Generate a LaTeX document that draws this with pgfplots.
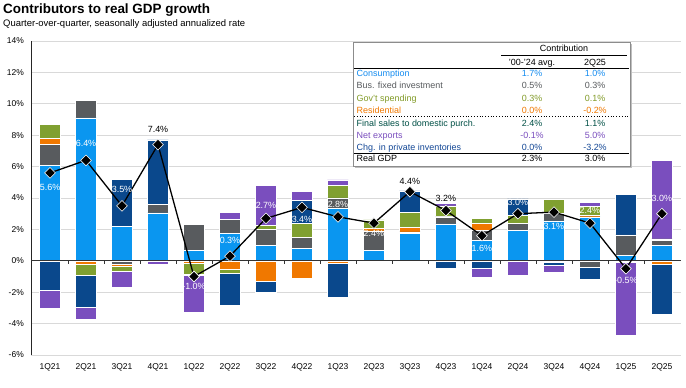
\documentclass[border=0pt]{standalone}
\usepackage{fontspec}
\setmainfont{Liberation Sans}
\usepackage{pgfplots}
\usepackage{pgfplotstable}
\pgfplotsset{compat=1.18}
\definecolor{cCons}{RGB}{10,150,240}
\definecolor{cBfi}{RGB}{88,91,94}
\definecolor{cRes}{RGB}{240,120,0}
\definecolor{cGov}{RGB}{128,160,48}
\definecolor{cInv}{RGB}{10,72,140}
\definecolor{cNx}{RGB}{122,78,190}
\definecolor{tCons}{RGB}{20,140,240}
\definecolor{tGov}{RGB}{130,155,40}
\definecolor{tFinal}{RGB}{0,80,70}
\definecolor{tInv}{RGB}{20,72,150}
\definecolor{gridc}{RGB}{217,217,217}

\pgfplotstableread{
x cons bfi res gov inv nx gdp
0 6.10 1.30 0.40 0.90 -1.90 -1.10 5.6
1 9.10 1.10 -0.20 -0.75 -2.00 -0.80 6.4
2 2.20 -0.20 -0.15 -0.30 3.00 -1.05 3.5
3 3.05 0.55 0.00 0.00 4.10 -0.20 7.4
4 0.65 1.65 -0.15 -0.70 -0.10 -2.35 -1.0
5 1.75 0.90 -0.55 -0.25 -2.00 0.45 0.3
6 1.00 1.00 -1.30 0.25 -0.70 2.55 2.7
7 0.80 0.70 -1.10 0.90 1.45 0.55 3.4
8 3.35 0.65 -0.15 0.80 -2.15 0.35 2.8
9 0.65 1.25 0.15 0.55 0.00 -0.10 2.4
10 1.75 0.10 0.30 0.95 1.35 -0.05 4.4
11 2.35 0.45 0.05 0.65 -0.45 0.15 3.2
12 1.30 0.65 0.45 0.30 -0.45 -0.60 1.6
13 1.95 0.45 -0.05 0.50 1.05 -0.90 3.0
14 2.55 0.45 -0.10 0.90 -0.17 -0.49 3.1
15 2.80 -0.40 0.10 0.55 -0.80 0.25 2.4
16 0.35 1.30 0.00 -0.07 2.60 -4.65 -0.5
17 1.00 0.30 -0.20 0.10 -3.20 5.00 3.0
}\data

\pgfplotsset{
  base/.style={
    at={(31bp,33bp)}, anchor=south west, scale only axis,
    width=650bp, height=314bp,
    xmin=-0.528, xmax=17.53, ymin=-6, ymax=14,
  },
  seg/.style={fill=#1, draw=white, line width=0.5pt},
}

\begin{document}
\begin{tikzpicture}
\path[use as bounding box] (0,0) rectangle (686bp,388bp);
\node[anchor=base west, inner sep=0pt, font=\fontsize{13.5}{15}\selectfont\bfseries] at (3bp,374bp) {Contributors to real GDP growth};
\node[anchor=base west, inner sep=0pt, font=\fontsize{9.5}{11}\selectfont] at (3bp,361.3bp) {Quarter-over-quarter, seasonally adjusted annualized rate};

% negative parts + grid + ticks
\begin{axis}[base,
  ybar stacked, bar width=21bp,
  ytick={-6,-4,...,14},
  yticklabels={-6\%,-4\%,-2\%,0\%,2\%,4\%,6\%,8\%,10\%,12\%,14\%},
  xtick={0,...,17},
  xticklabels={1Q21,2Q21,3Q21,4Q21,1Q22,2Q22,3Q22,4Q22,1Q23,2Q23,3Q23,4Q23,1Q24,2Q24,3Q24,4Q24,1Q25,2Q25},
  ymajorgrids, grid style={gridc, line width=0.8pt},
  axis lines*=left,
  x axis line style={draw=none},
  y axis line style={black!85, line width=0.8pt, -},
  major tick length=0pt,
  yticklabel style={font=\fontsize{8.5}{10}\selectfont, anchor=east, inner sep=0pt, xshift=-7bp},
  xticklabel style={font=\fontsize{8.5}{10}\selectfont, anchor=north, inner sep=0pt, yshift=-8bp},
]
\addplot[seg=cCons] table[x=x, y expr={min(\thisrow{cons},0)}] {\data};
\addplot[seg=cBfi]  table[x=x, y expr={min(\thisrow{bfi},0)}] {\data};
\addplot[seg=cRes]  table[x=x, y expr={min(\thisrow{res},0)}] {\data};
\addplot[seg=cGov]  table[x=x, y expr={min(\thisrow{gov},0)}] {\data};
\addplot[seg=cInv]  table[x=x, y expr={min(\thisrow{inv},0)}] {\data};
\addplot[seg=cNx]   table[x=x, y expr={min(\thisrow{nx},0)}] {\data};
\end{axis}

% positive parts
\begin{axis}[base, hide axis, ybar stacked, bar width=21bp]
\addplot[seg=cCons] table[x=x, y expr={max(\thisrow{cons},0)}] {\data};
\addplot[seg=cBfi]  table[x=x, y expr={max(\thisrow{bfi},0)}] {\data};
\addplot[seg=cRes]  table[x=x, y expr={max(\thisrow{res},0)}] {\data};
\addplot[seg=cGov]  table[x=x, y expr={max(\thisrow{gov},0)}] {\data};
\addplot[seg=cInv]  table[x=x, y expr={max(\thisrow{inv},0)}] {\data};
\addplot[seg=cNx]   table[x=x, y expr={max(\thisrow{nx},0)}] {\data};
\end{axis}

% zero line, GDP line and labels
\begin{axis}[base, hide axis, clip=false]
\draw[black!80, line width=0.8pt] (axis cs:-0.528,0) -- (axis cs:17.53,0);
\pgfplotsinvokeforeach{0.5,1.5,2.5,3.5,4.5,5.5,6.5,7.5,8.5,9.5,10.5,11.5,12.5,13.5,14.5,15.5,16.5}{
  \draw[black!80, line width=0.6pt] (axis cs:#1,0) -- (axis cs:#1,-0.22);
}
\addplot[black, line width=1.3pt, mark=square*, mark size=3.8bp,
  mark options={rotate=45, fill=black, draw=white, line width=0.6pt, solid}]
  table[x=x, y=gdp] {\data};
\begin{scope}[every node/.style={font=\fontsize{9}{10}\selectfont, inner sep=0pt}]
\node[text=white] at (axis cs:0,4.7) {5.6\%};
\node[text=white] at (axis cs:1,7.5) {6.4\%};
\node[text=white] at (axis cs:2,4.55) {3.5\%};
\node[text=black] at (axis cs:3,8.4) {7.4\%};
\node[text=white] at (axis cs:4,-1.65) {-1.0\%};
\node[text=white] at (axis cs:5,1.3) {0.3\%};
\node[text=white] at (axis cs:6,3.55) {2.7\%};
\node[text=white] at (axis cs:7,2.65) {3.4\%};
\node[text=white] at (axis cs:8,3.6) {2.8\%};
\node[text=white] at (axis cs:9,1.75) {2.4\%};
\node[text=black] at (axis cs:10,5.05) {4.4\%};
\node[text=black] at (axis cs:11,4.0) {3.2\%};
\node[text=white] at (axis cs:12,0.8) {1.6\%};
\node[text=white] at (axis cs:13,3.7) {3.0\%};
\node[text=white] at (axis cs:14,2.2) {3.1\%};
\node[text=white] at (axis cs:15,3.2) {2.4\%};
\node[text=white] at (axis cs:16,-1.25) {-0.5\%};
\node[text=white] at (axis cs:17,4.0) {3.0\%};
\end{scope}
\end{axis}

% table box
\fill[black!25] (355bp,219.5bp) rectangle (632bp,343.5bp);
\draw[black!45, line width=0.8pt, fill=white] (353bp,221.3bp) rectangle (630bp,345.3bp);
\begin{scope}[every node/.style={font=\fontsize{9}{11}\selectfont, inner sep=0pt}]
\node[anchor=base] at (564bp,336bp) {Contribution};
\draw[black, line width=0.6pt] (501bp,333bp) -- (627bp,333bp);
\node[anchor=base] at (532bp,322.7bp) {'00-'24 avg.};
\node[anchor=base] at (595bp,322.7bp) {2Q25};
\draw[black, line width=0.8pt] (354bp,319.7bp) -- (629bp,319.7bp);
% rows
\node[anchor=base west, text=tCons] at (356.5bp,311.3bp) {Consumption};
\node[anchor=base, text=tCons] at (532bp,311.3bp) {1.7\%};
\node[anchor=base, text=tCons] at (595bp,311.3bp) {1.0\%};
\node[anchor=base west, text=cBfi] at (356.5bp,299bp) {Bus. fixed investment};
\node[anchor=base, text=cBfi] at (532bp,299bp) {0.5\%};
\node[anchor=base, text=cBfi] at (595bp,299bp) {0.3\%};
\node[anchor=base west, text=tGov] at (356.5bp,286.7bp) {Gov't spending};
\node[anchor=base, text=tGov] at (532bp,286.7bp) {0.3\%};
\node[anchor=base, text=tGov] at (595bp,286.7bp) {0.1\%};
\node[anchor=base west, text=cRes] at (356.5bp,274.4bp) {Residential};
\node[anchor=base, text=cRes] at (532bp,274.4bp) {0.0\%};
\node[anchor=base, text=cRes] at (595bp,274.4bp) {-0.2\%};
\draw[black, line width=0.8pt, dotted] (354bp,272bp) -- (629bp,272bp);
\node[anchor=base west, text=tFinal] at (356.5bp,261.3bp) {Final sales to domestic purch.};
\node[anchor=base, text=tFinal] at (532bp,261.3bp) {2.4\%};
\node[anchor=base, text=tFinal] at (595bp,261.3bp) {1.1\%};
\node[anchor=base west, text=cNx] at (356.5bp,249.3bp) {Net exports};
\node[anchor=base, text=cNx] at (532bp,249.3bp) {-0.1\%};
\node[anchor=base, text=cNx] at (595bp,249.3bp) {5.0\%};
\node[anchor=base west, text=tInv] at (356.5bp,237.7bp) {Chg. in private inventories};
\node[anchor=base, text=tInv] at (532bp,237.7bp) {0.0\%};
\node[anchor=base, text=tInv] at (595bp,237.7bp) {-3.2\%};
\draw[black, line width=0.8pt] (354bp,234.7bp) -- (629bp,234.7bp);
\node[anchor=base west] at (356.5bp,226.3bp) {Real GDP};
\node[anchor=base] at (532bp,226.3bp) {2.3\%};
\node[anchor=base] at (595bp,226.3bp) {3.0\%};
\end{scope}
\end{tikzpicture}
\end{document}
